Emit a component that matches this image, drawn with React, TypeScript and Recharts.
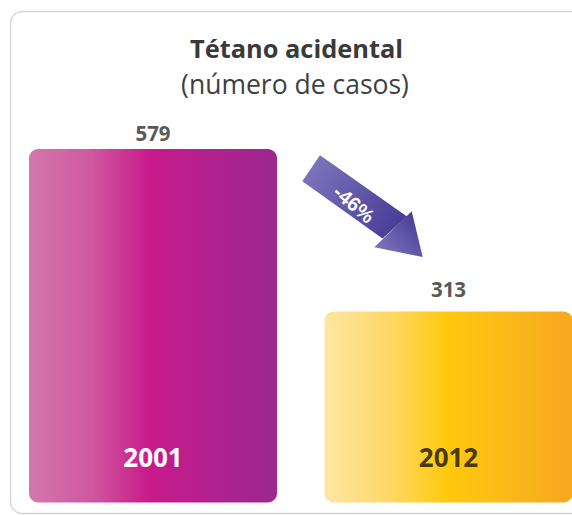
import React from 'react';
import { BarChart, Bar, XAxis, YAxis } from 'recharts';

const years = ['2001', '2012'];
const cases = [579, 313];
const titleText = 'Tétano acidental';
const subtitleText = '(número de casos)';

const data = years.map((year, i) => ({ year, cases: cases[i] }));
const pct = Math.round(((cases[1] - cases[0]) / cases[0]) * 100);
const pctLabel = `${pct}%`;

const FONT = '"Open Sans", Lato, sans-serif';
const yearColors = ['#ffffff', '#4a3b05'];
const valueOffsets = [8, 14];

const BarShape = (props: any) => {
  const { x, y, width, height, index, payload } = props;
  const r = Math.min(9, width / 2, height / 2);
  return (
    <g>
      <rect x={x} y={y} width={width} height={height} rx={r} ry={r} fill={`url(#barGrad${index})`} />
      <text
        x={x + width / 2}
        y={y - valueOffsets[index]}
        textAnchor="middle"
        fill="#595959"
        fontSize={20.5}
        fontWeight={700}
        fontFamily={FONT}
      >
        {payload.cases}
      </text>
      <text
        x={x + width / 2}
        y={y + height - 35.5}
        textAnchor="middle"
        fill={yearColors[index]}
        fontSize={26}
        fontWeight={700}
        fontFamily={FONT}
      >
        {payload.year}
      </text>
    </g>
  );
};

export default function App() {
  return (
    <div style={{ position: 'absolute', left: 0, top: 0, width: 572, height: 515, overflow: 'hidden', background: '#fff' }}>
      <BarChart
        width={600}
        height={515}
        data={data}
        margin={{ top: 149, right: 4, bottom: 12.5, left: 5 }}
      >
        <defs>
          <linearGradient id="barGrad0" x1="0" y1="0" x2="1" y2="0">
            <stop offset="0" stopColor="#d477ae" />
            <stop offset="0.25" stopColor="#cf58a0" />
            <stop offset="0.49" stopColor="#c81a8a" />
            <stop offset="0.75" stopColor="#b0228f" />
            <stop offset="1" stopColor="#9c278e" />
          </linearGradient>
          <linearGradient id="barGrad1" x1="0" y1="0" x2="1" y2="0">
            <stop offset="0" stopColor="#fee6a3" />
            <stop offset="0.25" stopColor="#fed86a" />
            <stop offset="0.49" stopColor="#ffc90d" />
            <stop offset="0.75" stopColor="#fbb81a" />
            <stop offset="1" stopColor="#f7a71f" />
          </linearGradient>
          <linearGradient id="arrowShaft" gradientUnits="userSpaceOnUse" x1="311" y1="168" x2="395" y2="227">
            <stop offset="0" stopColor="#7b73ba" />
            <stop offset="1" stopColor="#4a3e97" />
          </linearGradient>
          <linearGradient id="arrowHead" gradientUnits="userSpaceOnUse" x1="374" y1="247" x2="412" y2="211">
            <stop offset="0" stopColor="#7e75bc" />
            <stop offset="1" stopColor="#483c96" />
          </linearGradient>
        </defs>
        <rect x={10.5} y={11.5} width={580} height={502} rx={12} ry={12} fill="none" stroke="#d3d3d3" strokeWidth={1.3} />
        <text x={296.5} y={58.3} textAnchor="middle" fontSize={25.4} fontWeight={700} fill="#3a3a3a" fontFamily={FONT}>
          {titleText}
        </text>
        <text x={295} y={94} textAnchor="middle" fontSize={26.5} fontWeight={400} fill="#3f3f3f" fontFamily={FONT}>
          {subtitleText}
        </text>
        <XAxis dataKey="year" type="category" hide />
        <YAxis type="number" domain={[0, 'dataMax']} hide />
        <Bar dataKey="cases" barSize={248} shape={<BarShape />} isAnimationActive={false} />
        <g>
          <polygon points="320,155.3 407,216.5 382.5,238.5 302.3,181.3" fill="url(#arrowShaft)" />
          <polygon points="411.7,211.3 422.7,257 374.3,247.3" fill="url(#arrowHead)" />
          <text
            x={354}
            y={204}
            textAnchor="middle"
            dominantBaseline="central"
            transform="rotate(40 354 204)"
            fontSize={20}
            fontWeight={700}
            fill="#ffffff"
            fontFamily='"Liberation Sans", Arial, sans-serif'
          >
            {pctLabel}
          </text>
        </g>
      </BarChart>
    </div>
  );
}
